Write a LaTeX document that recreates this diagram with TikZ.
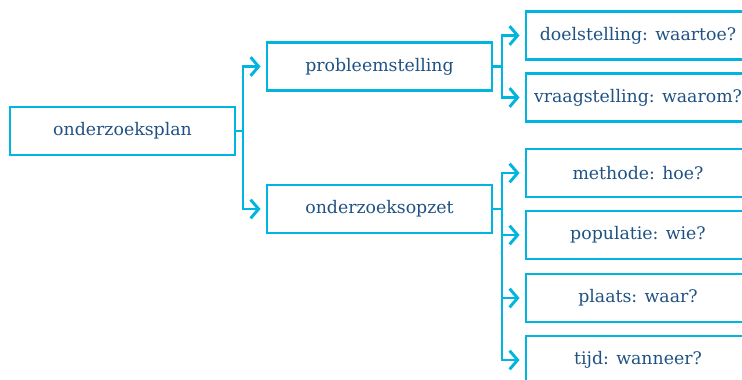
\documentclass[tikz,border=0pt]{standalone}
\usepackage{fontspec}
\setmainfont{DejaVu Serif}
\usetikzlibrary{arrows.meta}
\definecolor{linecyan}{HTML}{00B5DF}
\definecolor{textblue}{HTML}{1F5283}
\begin{document}
\begin{tikzpicture}[x=0.75pt,y=-0.75pt,
  box/.style={draw=linecyan,line width=2.2pt,text=textblue,
    minimum height=36pt,inner sep=0pt,font=\fontsize{13}{15}\selectfont},
  midbox/.style={box,minimum width=168.75pt},
  leafbox/.style={box,minimum width=168pt},
  link/.style={draw=linecyan,line width=2.2pt},
  arr/.style={link,-{Straight Barb[length=6pt,width=14pt]},shorten >=3.75pt}]
\useasboundingbox (0,0) rectangle (742,379);
\clip (0,0) rectangle (742,379);
% main nodes
\node[midbox] (plan)  at (122.5,131) {onderzoeksplan};
\node[midbox] (prob)  at (379.5,66.5) {probleemstelling};
\node[midbox] (opzet) at (379.5,209) {onderzoeksopzet};
% leaves
\node[leafbox] (doel)  at (638,35.5) {doelstelling: waartoe?};
\node[leafbox] (vraag) at (638,97.5) {vraagstelling: waarom?};
\node[leafbox] (meth)  at (638,173) {methode: hoe?};
\node[leafbox] (pop)   at (638,235) {populatie: wie?};
\node[leafbox] (plts)  at (638,298) {plaats: waar?};
\node[leafbox] (tijd)  at (638,360) {tijd: wanneer?};
% junctions
\coordinate (j1) at (243,131);
\coordinate (j2) at (502,66.5);
\coordinate (j3) at (502,209);
% connectors
\draw[link] (plan.east) -- (j1);
\draw[arr] (j1) |- (prob.west);
\draw[arr] (j1) |- (opzet.west);
\draw[link] (prob.east) -- (j2);
\draw[arr] (j2) |- (doel.west);
\draw[arr] (j2) |- (vraag.west);
\draw[link] (opzet.east) -- (j3);
\draw[arr] (j3) |- (meth.west);
\draw[arr] (j3) |- (pop.west);
\draw[arr] (j3) |- (plts.west);
\draw[arr] (j3) |- (tijd.west);
\end{tikzpicture}
\end{document}
